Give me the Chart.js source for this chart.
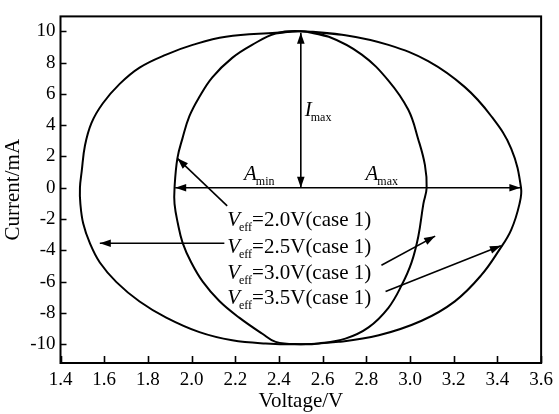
<!DOCTYPE html>
<html>
<head>
<meta charset="utf-8">
<script src="https://cdn.jsdelivr.net/npm/chart.js@4/dist/chart.umd.min.js"></script>
<style>
  html, body { margin: 0; padding: 0; background: #fff; }
  #c { display: block; }
</style>
</head>
<body>
<canvas id="c" width="559" height="414"></canvas>
<script>
// Outer loop (voltage V, current mA), traced clockwise from the top;
// the first and last points overlap at the top so the loop closes smoothly
const outerVoltage = [2.386, 2.50, 2.704, 2.901, 3.083, 3.251, 3.372, 3.463, 3.508, 3.501, 3.463, 3.41, 3.326, 3.205, 3.053, 2.857, 2.673, 2.50, 2.339, 2.186, 2.036, 1.884, 1.762, 1.656, 1.58, 1.534, 1.504, 1.491, 1.489, 1.497, 1.512, 1.542, 1.594, 1.671, 1.762, 1.884, 2.005, 2.157, 2.386, 2.50, 2.704];
const outerCurrent = [9.9, 10.0, 9.75, 9.13, 8.09, 6.43, 4.57, 2.5, 0.0, -1.03, -2.69, -3.94, -5.59, -7.26, -8.5, -9.43, -9.85, -10.0, -9.95, -9.75, -9.23, -8.3, -7.27, -6.03, -4.78, -3.53, -2.29, -1.03, 0.0, 1.04, 2.7, 4.15, 5.4, 6.64, 7.68, 8.51, 9.13, 9.65, 9.9, 10.0, 9.75];

// Inner loop
const innerVoltage = [2.385, 2.50, 2.628, 2.779, 2.901, 2.992, 3.037, 3.068, 3.076, 3.061, 3.038, 3.007, 2.962, 2.901, 2.81, 2.704, 2.582, 2.50, 2.385, 2.324, 2.218, 2.127, 2.051, 1.998, 1.959, 1.937, 1.922, 1.922, 1.935, 1.958, 1.99, 2.036, 2.095, 2.186, 2.277, 2.385, 2.50, 2.628];
const innerCurrent = [9.86, 10.0, 9.65, 8.51, 6.85, 4.98, 3.12, 1.46, 0.0, -1.03, -3.1, -4.77, -6.22, -7.67, -8.92, -9.64, -9.95, -10.0, -9.85, -9.33, -8.3, -7.24, -6.0, -4.76, -3.52, -2.27, -1.03, 0.0, 1.88, 3.14, 4.57, 5.81, 7.06, 8.3, 9.13, 9.86, 10.0, 9.65];

// Axis ticks
const voltageTicks = [1.4, 1.6, 1.8, 2.0, 2.2, 2.4, 2.6, 2.8, 3.0, 3.2, 3.4, 3.6];
const currentTicks = [-10, -8, -6, -4, -2, 0, 2, 4, 6, 8, 10];

// Annotation arrows in data units: [x0, y0, x1, y1, headAtStart, headAtEnd]
const arrows = [
  [2.50, 0.0, 2.50, 9.9, true, true],      // I_max
  [1.925, 0.0, 3.505, 0.0, true, true],    // A_min / A_max
  [2.163, -1.16, 1.935, 1.88, false, true],
  [2.15, -3.55, 1.58, -3.55, false, true],
  [2.869, -4.95, 3.115, -3.09, false, true],
  [2.888, -6.63, 3.416, -3.71, false, true]
];

// Labels with a subscript: [x, y, main, subscript, rest]
const labels = [
  [2.518, 4.6, 'I', 'max', ''],
  [2.24, 0.52, 'A', 'min', ''],
  [2.796, 0.52, 'A', 'max', ''],
  [2.163, -2.46, 'V', 'eff', '=2.0V(case 1)'],
  [2.163, -4.14, 'V', 'eff', '=2.5V(case 1)'],
  [2.163, -5.82, 'V', 'eff', '=3.0V(case 1)'],
  [2.163, -7.45, 'V', 'eff', '=3.5V(case 1)']
];

const SERIF = '"Liberation Serif", "Times New Roman", serif';

function toPoints(xs, ys) {
  return xs.map((x, i) => ({ x: x, y: ys[i] }));
}

const framePlugin = {
  id: 'frame',
  afterDatasetsDraw(chart) {
    const ctx = chart.ctx;
    const a = chart.chartArea;
    const xs = chart.scales.x, ys = chart.scales.y;
    ctx.save();
    ctx.strokeStyle = '#000';
    ctx.fillStyle = '#000';

    // inward tick marks on bottom and left
    ctx.lineWidth = 1.6;
    ctx.beginPath();
    voltageTicks.forEach(v => {
      const px = Math.round(xs.getPixelForValue(v)) + 0.5;
      ctx.moveTo(px, a.bottom);
      ctx.lineTo(px, a.bottom - 7);
    });
    currentTicks.forEach(v => {
      const py = Math.round(ys.getPixelForValue(v)) + 0.5;
      ctx.moveTo(a.left, py);
      ctx.lineTo(a.left + 6, py);
    });
    ctx.stroke();

    // arrows
    ctx.lineWidth = 1.6;
    const head = (x0, y0, x1, y1) => {
      const ang = Math.atan2(y1 - y0, x1 - x0);
      const L = 11, W = 3.8;
      ctx.beginPath();
      ctx.moveTo(x1, y1);
      ctx.lineTo(x1 - L * Math.cos(ang) + W * Math.sin(ang), y1 - L * Math.sin(ang) - W * Math.cos(ang));
      ctx.lineTo(x1 - L * Math.cos(ang) - W * Math.sin(ang), y1 - L * Math.sin(ang) + W * Math.cos(ang));
      ctx.closePath();
      ctx.fill();
    };
    arrows.forEach(([vx0, cy0, vx1, cy1, hs, he]) => {
      const x0 = xs.getPixelForValue(vx0), y0 = ys.getPixelForValue(cy0);
      const x1 = xs.getPixelForValue(vx1), y1 = ys.getPixelForValue(cy1);
      ctx.beginPath();
      ctx.moveTo(x0, y0);
      ctx.lineTo(x1, y1);
      ctx.stroke();
      if (he) head(x0, y0, x1, y1);
      if (hs) head(x1, y1, x0, y0);
    });

    // labels with subscripts
    ctx.textBaseline = 'alphabetic';
    ctx.textAlign = 'left';
    labels.forEach(([vx, cy, main, sub, rest]) => {
      let px = xs.getPixelForValue(vx);
      const py = ys.getPixelForValue(cy);
      ctx.font = 'italic 21px ' + SERIF;
      ctx.fillText(main, px, py);
      px += ctx.measureText(main).width;
      ctx.font = '12px ' + SERIF;
      ctx.fillText(sub, px - 1, py + 5);
      px += ctx.measureText(sub).width - 1;
      if (rest) {
        ctx.font = '21px ' + SERIF;
        ctx.fillText(rest, px, py);
      }
    });

    // plot frame
    ctx.lineWidth = 2;
    ctx.strokeRect(a.left, a.top, a.right - a.left, a.bottom - a.top);
    ctx.restore();
  }
};

const loopStyle = {
  showLine: true,
  borderColor: '#000',
  borderWidth: 2,
  pointRadius: 0,
  tension: 0.4,
  fill: false
};

new Chart(document.getElementById('c'), {
  type: 'scatter',
  data: {
    datasets: [
      Object.assign({ label: 'outer', data: toPoints(outerVoltage, outerCurrent) }, loopStyle),
      Object.assign({ label: 'inner', data: toPoints(innerVoltage, innerCurrent) }, loopStyle)
    ]
  },
  options: {
    responsive: false,
    animation: false,
    layout: { padding: { top: 7.5, right: 15.5, left: 0, bottom: 0 } },
    plugins: {
      legend: { display: false },
      tooltip: { enabled: false }
    },
    scales: {
      x: {
        type: 'linear',
        min: 1.4,
        max: 3.6,
        afterFit(scale) { scale.height = 51; },
        afterBuildTicks(scale) { scale.ticks = voltageTicks.map(v => ({ value: v })); },
        grid: { display: false, drawTicks: false },
        border: { display: false },
        ticks: {
          padding: 6,
          color: '#000',
          font: { family: SERIF, size: 19 },
          callback: v => Number(v).toFixed(1)
        },
        title: {
          display: true,
          text: 'Voltage/V',
          color: '#000',
          font: { family: SERIF, size: 21 },
          padding: { top: 0, bottom: 0 }
        }
      },
      y: {
        type: 'linear',
        min: -11.2,
        max: 10.95,
        afterFit(scale) { scale.width = 60.5; },
        afterBuildTicks(scale) { scale.ticks = currentTicks.map(v => ({ value: v })); },
        grid: { display: false, drawTicks: false },
        border: { display: false },
        ticks: {
          padding: 5,
          color: '#000',
          font: { family: SERIF, size: 19 },
          callback: v => String(v)
        },
        title: {
          display: true,
          text: 'Current/mA',
          color: '#000',
          font: { family: SERIF, size: 21 },
          padding: { top: 1, bottom: 0 }
        }
      }
    }
  },
  plugins: [framePlugin]
});
</script>
</body>
</html>
